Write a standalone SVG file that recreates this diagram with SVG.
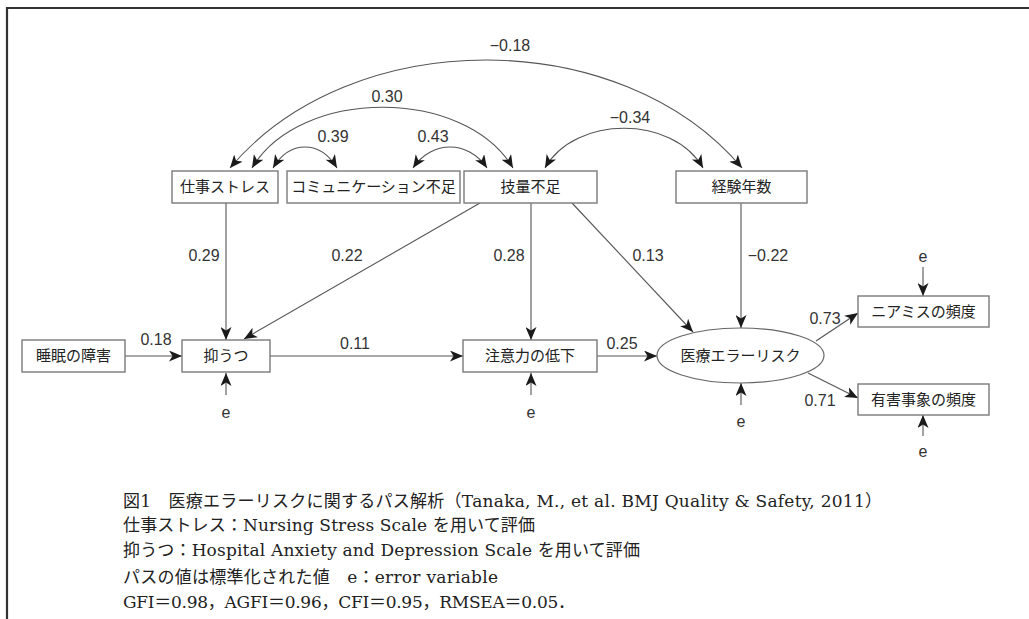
<svg xmlns="http://www.w3.org/2000/svg" width="1029" height="619" viewBox="0 0 1029 619">
<defs>
<marker id="ah" markerUnits="userSpaceOnUse" markerWidth="14" markerHeight="11" refX="13" refY="5.5" orient="auto-start-reverse">
<path d="M0,0 L13,5.5 L0,11 L3.5,5.5 z" fill="#1a1a1a"/>
</marker>
<style>
.box{fill:#fff;stroke:#7a7a7a;stroke-width:1.4}
.lbl{font-family:"Liberation Sans","Noto Sans CJK JP",sans-serif;font-size:15px;fill:#222;text-anchor:middle}
.num{font-family:"Liberation Sans",sans-serif;font-size:16px;fill:#333;text-anchor:middle}
.e{font-family:"Liberation Sans",sans-serif;font-size:16px;fill:#333;text-anchor:middle}
.ln{fill:none;stroke:#555;stroke-width:1.1;marker-end:url(#ah)}
.bi{fill:none;stroke:#555;stroke-width:1.1;marker-start:url(#ah);marker-end:url(#ah)}
.cap{font-family:"DejaVu Serif","Noto Sans CJK JP",serif;font-size:17px;fill:#222}
</style>
</defs>
<rect width="1029" height="619" fill="#fff"/>
<path d="M7,619 L7,8 L1029,8" fill="none" stroke="#333" stroke-width="2.2"/>

<g id="connectors">
<path class="bi" d="M230,168 C351,24 621,24 742,168"/>
<path class="bi" d="M252,168 C300,87 465,87 513,168"/>
<path class="bi" d="M273,168 C290,140 320,140 337,168"/>
<path class="bi" d="M413,168 C432,140 468,140 487,168"/>
<path class="bi" d="M545,168 C575,115 673,115 703,168"/>
<path class="ln" d="M226,203 L226,340"/>
<path class="ln" d="M480,203 L244,339"/>
<path class="ln" d="M531,203 L531,340"/>
<path class="ln" d="M572,203 L693,332"/>
<path class="ln" d="M741,203 L741,328"/>
<path class="ln" d="M125,356 L182,356"/>
<path class="ln" d="M270,356 L463,356"/>
<path class="ln" d="M597,356 L657,356"/>
<path class="ln" d="M816,341 L858,313"/>
<path class="ln" d="M808,373 L858,398"/>
<path class="ln" d="M226,395 L226,373"/>
<path class="ln" d="M531,395 L531,373"/>
<path class="ln" d="M741,405 L741,383"/>
<path class="ln" d="M923,267 L923,296"/>
<path class="ln" d="M923,436 L923,415"/>
<text class="num" x="510" y="51">−0.18</text>
<text class="num" x="387" y="102">0.30</text>
<text class="num" x="333" y="142">0.39</text>
<text class="num" x="433" y="142">0.43</text>
<text class="num" x="630" y="123">−0.34</text>
<text class="num" x="204" y="261">0.29</text>
<text class="num" x="347" y="261">0.22</text>
<text class="num" x="509" y="261">0.28</text>
<text class="num" x="648" y="261">0.13</text>
<text class="num" x="768" y="261">−0.22</text>
<text class="num" x="156" y="345">0.18</text>
<text class="num" x="355" y="349">0.11</text>
<text class="num" x="622" y="349">0.25</text>
<text class="num" x="825" y="324">0.73</text>
<text class="num" x="820" y="406">0.71</text>
<text class="e" x="226" y="418">e</text>
<text class="e" x="531" y="418">e</text>
<text class="e" x="741" y="427">e</text>
<text class="e" x="923" y="262">e</text>
<text class="e" x="923" y="457">e</text>
</g>

<g id="n-shigoto"><rect class="box" x="172" y="171" width="106" height="32"/><text class="lbl" x="225" y="192">仕事ストレス</text></g>
<g id="n-comm"><rect class="box" x="287" y="171" width="173" height="32"/><text class="lbl" x="373.5" y="192">コミュニケーション不足</text></g>
<g id="n-giryo"><rect class="box" x="464" y="171" width="133" height="32"/><text class="lbl" x="530.5" y="192">技量不足</text></g>
<g id="n-keiken"><rect class="box" x="676" y="171" width="131" height="32"/><text class="lbl" x="741.5" y="192">経験年数</text></g>
<g id="n-suimin"><rect class="box" x="22" y="340" width="103" height="32"/><text class="lbl" x="73.5" y="361">睡眠の障害</text></g>
<g id="n-yokuutsu"><rect class="box" x="182" y="340" width="88" height="32"/><text class="lbl" x="226" y="361">抑うつ</text></g>
<g id="n-chui"><rect class="box" x="463" y="340" width="134" height="32"/><text class="lbl" x="530" y="361">注意力の低下</text></g>
<g id="n-iryo"><ellipse cx="740.5" cy="355.5" rx="83.5" ry="27.5" fill="#fff" stroke="#666" stroke-width="1.2"/><text class="lbl" x="740.5" y="361">医療エラーリスク</text></g>
<g id="n-niamisu"><rect class="box" x="858" y="296" width="131" height="31"/><text class="lbl" x="923.5" y="317">ニアミスの頻度</text></g>
<g id="n-yugai"><rect class="box" x="858" y="384" width="131" height="31"/><text class="lbl" x="923.5" y="405">有害事象の頻度</text></g>

<g id="caption">
<text class="cap" x="123" y="507" textLength="759" lengthAdjust="spacing">図1　医療エラーリスクに関するパス解析（Tanaka, M., et al. BMJ Quality &amp; Safety, 2011）</text>
<text class="cap" x="123" y="531" textLength="412" lengthAdjust="spacing">仕事ストレス：Nursing Stress Scale を用いて評価</text>
<text class="cap" x="123" y="556" textLength="517" lengthAdjust="spacing">抑うつ：Hospital Anxiety and Depression Scale を用いて評価</text>
<text class="cap" x="123" y="583" textLength="375" lengthAdjust="spacing">パスの値は標準化された値　e：error variable</text>
<text class="cap" x="123" y="608" textLength="452" lengthAdjust="spacing">GFI＝0.98，AGFI＝0.96，CFI＝0.95，RMSEA＝0.05．</text>
</g>
</svg>
